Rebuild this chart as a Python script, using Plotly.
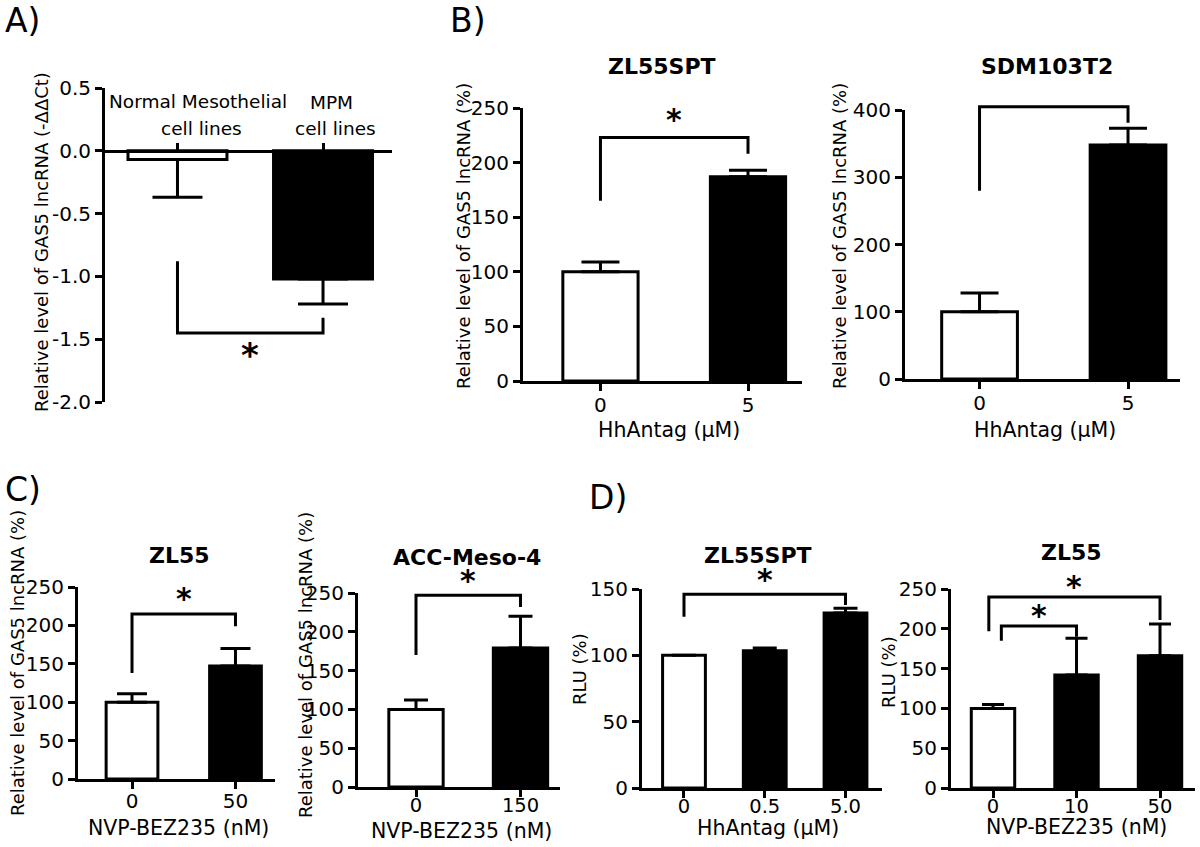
import plotly.graph_objects as go

FONT = "DejaVu Sans"
W, H = 1200, 847

# ---------------- data ----------------
a_categories = ["Normal Mesothelial<br>cell lines", "MPM<br>cell lines"]
a_values = [-0.07, -1.02]
a_errors = [0.30, 0.20]
a_yticks = [0.5, 0.0, -0.5, -1.0, -1.5, -2.0]
a_yticklabels = ["0.5", "0.0", "-0.5", "-1.0", "-1.5", "-2.0"]
a_brackets = [[0, 1, -0.88, -1.45, -1.33]]

b1_categories = ["0", "5"]
b1_values = [100, 187]
b1_errors = [9, 6]
b1_yticks = [0, 50, 100, 150, 200, 250]
b1_brackets = [[0, 1, 165, 223, 208]]

b2_categories = ["0", "5"]
b2_values = [100, 348]
b2_errors = [28, 25]
b2_yticks = [0, 100, 200, 300, 400]
b2_brackets = [[0, 1, 280, 405, 381]]

c1_categories = ["0", "50"]
c1_values = [100, 147]
c1_errors = [11, 23]
c1_yticks = [0, 50, 100, 150, 200, 250]
c1_brackets = [[0, 1, 138, 215, 199]]

c2_categories = ["0", "150"]
c2_values = [100, 179]
c2_errors = [12, 41]
c2_yticks = [0, 50, 100, 150, 200, 250]
c2_brackets = [[0, 1, 170, 247, 232]]

d1_categories = ["0", "0.5", "5.0"]
d1_values = [100, 103.5, 132]
d1_errors = [0, 2, 3.5]
d1_yticks = [0, 50, 100, 150]
d1_brackets = [[0, 2, 129, 146, 138]]

d2_categories = ["0", "10", "50"]
d2_values = [100, 142, 166]
d2_errors = [5, 46, 40]
d2_yticks = [0, 50, 100, 150, 200, 250]
d2_brackets = [[-0.05, 2, 197, 240, 211], [0.1, 1, 185, 203.5, 190]]

titles = {"b1": "ZL55SPT", "b2": "SDM103T2", "c1": "ZL55", "c2": "ACC-Meso-4",
          "d1": "ZL55SPT", "d2": "ZL55"}
xtitles = {"b1": "HhAntag (μM)", "b2": "HhAntag (μM)", "c1": "NVP-BEZ235 (nM)",
           "c2": "NVP-BEZ235 (nM)", "d1": "HhAntag (μM)", "d2": "NVP-BEZ235 (nM)"}
ytitles = {"a": "Relative level of GAS5 lncRNA (-ΔΔCt)",
           "b1": "Relative level of GAS5 lncRNA (%)", "b2": "Relative level of GAS5 lncRNA (%)",
           "c1": "Relative level of GAS5 lncRNA (%)", "c2": "Relative level of GAS5 lncRNA (%)",
           "d1": "RLU (%)", "d2": "RLU (%)"}
panel_letters = ["A)", "B)", "C)", "D)"]

# ---------------- geometry (pixels) ----------------
def fx(p):
    return p / W


def fy(p):
    return 1 - p / H


panels = [
    dict(key="a", cats=a_categories, vals=a_values, errs=a_errors, yt=a_yticks, ytl=a_yticklabels,
         br=a_brackets, xdom=(105, 392), ydom=(88, 402), xr=(-0.498, 1.474), yr=(-2, 0.5),
         bw=0.68, cap=25, star=34, gap=-20, ytc=(41, 242), xso=0, xfs=20),
    dict(key="b1", cats=b1_categories, vals=b1_values, errs=b1_errors, yt=b1_yticks, ytl=None,
         br=b1_brackets, xdom=(523, 802), ydom=(108, 381), xr=(-0.525, 1.366), yr=(0, 250),
         bw=0.51, cap=19, star=30, gap=20, tc=(662, 66), xtc=(669, 430), ytc=(463, 236),
         xso=-3, xfs=20),
    dict(key="b2", cats=b2_categories, vals=b2_values, errs=b2_errors, yt=b2_yticks, ytl=None,
         br=b2_brackets, xdom=(905, 1180), ydom=(110, 379), xr=(-0.502, 1.35), yr=(0, 400),
         bw=0.51, cap=19, star=30, gap=19, tc=(1047, 66), xtc=(1045, 430), ytc=(839, 236),
         xso=-3, xfs=20),
    dict(key="c1", cats=c1_categories, vals=c1_values, errs=c1_errors, yt=c1_yticks, ytl=None,
         br=c1_brackets, xdom=(78, 275), ydom=(587, 779), xr=(-0.522, 1.382), yr=(0, 250),
         bw=0.50, cap=15, star=30, gap=17, tc=(179, 555), xtc=(178, 828), ytc=(17, 663),
         xso=-5, xfs=20),
    dict(key="c2", cats=c2_categories, vals=c2_values, errs=c2_errors, yt=c2_yticks, ytl=None,
         br=c2_brackets, xdom=(358, 560), ydom=(593, 787), xr=(-0.555, 1.378), yr=(0, 250),
         bw=0.52, cap=12, star=30, gap=17, tc=(467, 557), xtc=(461, 831), ytc=(305, 665),
         xso=-8, xfs=19.5),
    dict(key="d1", cats=d1_categories, vals=d1_values, errs=d1_errors, yt=d1_yticks, ytl=None,
         br=d1_brackets, xdom=(642, 882), ydom=(589, 788), xr=(-0.52, 2.452), yr=(0, 150),
         bw=0.53, cap=12, star=30, gap=17, tc=(758, 555), xtc=(768, 828), ytc=(579, 669),
         xso=-8, xfs=19.5),
    dict(key="d2", cats=d2_categories, vals=d2_values, errs=d2_errors, yt=d2_yticks, ytl=None,
         br=d2_brackets, xdom=(951, 1195), ydom=(589, 788), xr=(-0.503, 2.419), yr=(0, 250),
         bw=0.52, cap=11, star=30, gap=13, tc=(1071, 552), xtc=(1076, 827), ytc=(888, 672),
         xso=-8, xfs=19.5),
]

LW = 3
TICKFONT = dict(family=FONT, size=20, color="black")

fig = go.Figure()
annotations = []
layout = dict(width=W, height=H, margin=dict(l=0, r=0, t=0, b=0, pad=0), showlegend=False,
              plot_bgcolor="rgba(0,0,0,0)", paper_bgcolor="white", template="none")

extra = len(panels)  # counter for helper axes used by brackets that rise above an axis

for k, p in enumerate(panels, start=1):
    xa = "x" if k == 1 else f"x{k}"
    ya = "y" if k == 1 else f"y{k}"
    xkey = "xaxis" if k == 1 else f"xaxis{k}"
    ykey = "yaxis" if k == 1 else f"yaxis{k}"
    n = len(p["cats"])
    idx = list(range(n))
    colors = ["white"] + ["black"] * (n - 1)
    neg = p["key"] == "a"
    err = dict(type="data", symmetric=False, color="black", thickness=LW, width=p["cap"],
               array=[0] * n if neg else p["errs"],
               arrayminus=p["errs"] if neg else [0] * n)
    fig.add_trace(go.Bar(x=idx, y=p["vals"], width=p["bw"], xaxis=xa, yaxis=ya,
                         marker=dict(color=colors, line=dict(color="black", width=LW)),
                         error_y=err, hoverinfo="skip"))

    x0, x1 = p["xdom"]
    yt_px, yb_px = p["ydom"]
    y0v, y1v = p["yr"]

    # significance brackets (on a taller twin subplot if they rise above the axis top)
    bx, by = [], []
    for l, r, yl, yt, yr_ in p["br"]:
        bx += [l, l, r, r, None]
        by += [yl, yt, yt, yr_, None]
    top_needed = max(b[3] for b in p["br"])
    bxa, bya = xa, ya
    if top_needed > y1v:
        extra += 1
        bxa, bya = f"x{extra}", f"y{extra}"
        ext_px = 30
        per_px = (y1v - y0v) / (yb_px - yt_px)
        layout[f"xaxis{extra}"] = dict(domain=[fx(x0), fx(x1)], range=list(p["xr"]),
                                       visible=False, anchor=bya, automargin=False)
        layout[f"yaxis{extra}"] = dict(domain=[fy(yb_px), fy(yt_px - ext_px)],
                                       range=[y0v, y1v + ext_px * per_px],
                                       visible=False, anchor=bxa, automargin=False)
    fig.add_trace(go.Scatter(x=bx, y=by, mode="lines", xaxis=bxa, yaxis=bya,
                             line=dict(color="black", width=LW), cliponaxis=False,
                             hoverinfo="skip"))
    for l, r, yl, yt, yr_ in p["br"]:
        annotations.append(dict(xref=xa, yref=ya, x=(l + r) / 2, y=yt, text="<b>*</b>",
                                showarrow=False, xanchor="center", yanchor="middle",
                                yshift=p["gap"] - 0.07 * p["star"],
                                font=dict(family=FONT, size=p["star"], color="black")))

    yaxis = dict(domain=[fy(yb_px), fy(yt_px)], range=[y0v, y1v], anchor=xa, showline=True,
                 linecolor="black", linewidth=LW, ticks="outside", ticklen=7,
                 tickwidth=LW, tickcolor="black", tickfont=TICKFONT, showgrid=False,
                 zeroline=False, tickvals=p["yt"], automargin=False,
                 ticktext=p["ytl"] if p["ytl"] else [str(v) for v in p["yt"]])
    xaxis = dict(domain=[fx(x0), fx(x1)], range=list(p["xr"]), showline=True,
                 linecolor="black", linewidth=LW, ticks="outside", ticklen=7,
                 tickwidth=LW, tickcolor="black",
                 tickfont=dict(family=FONT, size=p["xfs"], color="black"), showgrid=False,
                 zeroline=False, tickvals=idx, automargin=False,
                 ticklabelstandoff=p["xso"])
    if neg:
        zero_px = yb_px - (0 - y0v) / (y1v - y0v) * (yb_px - yt_px)
        xaxis.update(anchor="free", position=fy(zero_px), side="top", showticklabels=False)
    else:
        xaxis.update(anchor=ya, ticktext=p["cats"])
    layout[xkey] = xaxis
    layout[ykey] = yaxis

    key = p["key"]
    if key in titles:
        cx, cy = p["tc"]
        annotations.append(dict(xref="paper", yref="paper", x=fx(cx), y=fy(cy),
                                text=f"<b>{titles[key]}</b>", showarrow=False,
                                xanchor="center", yanchor="middle",
                                font=dict(family=FONT, size=22, color="black")))
    if key in xtitles:
        cx, cy = p["xtc"]
        annotations.append(dict(xref="paper", yref="paper", x=fx(cx), y=fy(cy),
                                text=xtitles[key], showarrow=False,
                                xanchor="center", yanchor="middle",
                                font=dict(family=FONT, size=20.5, color="black")))
    cx, cy = p["ytc"]
    annotations.append(dict(xref="paper", yref="paper", x=fx(cx), y=fy(cy),
                            text=ytitles[key], showarrow=False, textangle=-90,
                            xanchor="center", yanchor="middle",
                            font=dict(family=FONT, size=18, color="black")))

# Panel A category labels (placed above the zero line)
a_label_pos = [[(198, 101), (201, 128)], [(331, 103), (335, 128)]]
for cat, poss in zip(a_categories, a_label_pos):
    for line, (cx, cy) in zip(cat.split("<br>"), poss):
        annotations.append(dict(xref="paper", yref="paper", x=fx(cx), y=fy(cy), text=line,
                                showarrow=False, xanchor="center", yanchor="middle",
                                font=dict(family=FONT, size=18.5, color="black")))

# panel letters
letter_pos = [(3, 20), (448, 20), (3, 490), (587, 497)]
for t, (lx, ly) in zip(panel_letters, letter_pos):
    annotations.append(dict(xref="paper", yref="paper", x=fx(lx), y=fy(ly), text=t,
                            showarrow=False, xanchor="left", yanchor="middle",
                            font=dict(family=FONT, size=33, color="black")))

layout["annotations"] = annotations
fig.update_layout(**layout)
fig.write_html("out.html", config={"displayModeBar": False},
               post_script="document.body.style.margin='0px';document.body.style.padding='0px';")
